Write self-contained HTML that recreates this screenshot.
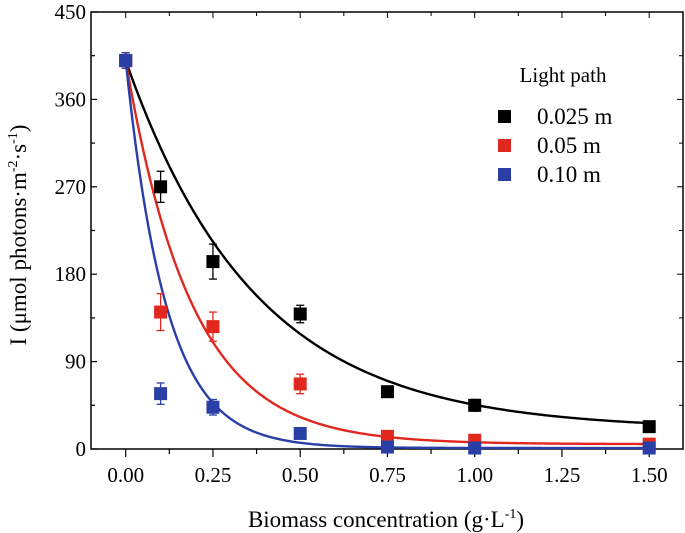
<!DOCTYPE html>
<html><head><meta charset="utf-8"><style>
body{margin:0;background:#fff}
svg{display:block;font-family:"Liberation Serif",serif}
</style></head><body>
<svg id="c" width="685" height="533"></svg>
<script>
const xs=[0,0.1,0.25,0.5,0.75,1.0,1.5];
const black=[400,270,193,139,59,45,23];
const blackErr=[8,16,18,9,5,6,4];
const red=[400,141,126,67,13,9,5];
const redErr=[8,19,15,10,3,2,2];
const blue=[400,57,43,16,2,1,1];
const blueErr=[8,11,8,3,1,1,1];
const fitY0=[20,5,1];
const fitA=[380,395,399];
const fitK=[2.7,5.3,8.6];
const xTicks=[0,0.25,0.5,0.75,1.0,1.25,1.5];
const xTickLabels=["0.00","0.25","0.50","0.75","1.00","1.25","1.50"];
const yTicks=[0,90,180,270,360,450];
const legendLabels=["0.025 m","0.05 m","0.10 m"];
const colors=["#000000","#e0281f","#2a3fa6"];

const NS="http://www.w3.org/2000/svg";
const svg=document.getElementById('c');
const L=91,R=683,T=12,B=449;
const X=v=>125.7+v*349;
const Y=v=>B-v*(B-T)/450;
function el(tag,attrs,parent){const e=document.createElementNS(NS,tag);for(const k in attrs)e.setAttribute(k,attrs[k]);(parent||svg).appendChild(e);return e;}

const frame=el('rect',{x:L,y:T,width:R-L,height:B-T,fill:'none',stroke:'#000','stroke-width':1.5});



for(let v=0;v<=1.5001;v+=0.125){
  const major=Math.abs(v*4-Math.round(v*4))<1e-6;
  const t=el('line',{x1:X(v),x2:X(v),y1:B,y2:B+(major?8:5),stroke:'#000','stroke-width':1.2});
  
  
  const t2=el('line',{x1:X(v),x2:X(v),y1:T,y2:T+(major?6:4),stroke:'#000','stroke-width':1});
  
  
}
xTicks.forEach((v,i)=>{
  const t=el('text',{x:X(v),y:482,'text-anchor':'middle','font-size':21});
  t.textContent=xTickLabels[i];
  
  
});
for(let v=0;v<=450;v+=45){
  const major=v%90===0;
  const t=el('line',{x1:L,x2:L+(major?6:4),y1:Y(v),y2:Y(v),stroke:'#000','stroke-width':1.2});
  
  
  const t2=el('line',{x1:R,x2:R-(major?6:4),y1:Y(v),y2:Y(v),stroke:'#000','stroke-width':1});
  
  
}
yTicks.forEach(v=>{
  const t=el('text',{x:86,y:Y(v)+7,'text-anchor':'end','font-size':21});
  t.textContent=String(v);
  
  
});
const xt=el('text',{x:386,y:527,'text-anchor':'middle','font-size':23});
xt.innerHTML='Biomass concentration (g·L<tspan dy="-9" font-size="14">-1</tspan><tspan dy="9">)</tspan>';


const yt=el('text',{x:0,y:0,'text-anchor':'middle','font-size':23,transform:'translate(26,235) rotate(-90)'});
yt.innerHTML='I (μmol photons·m<tspan dy="-9" font-size="14">-2</tspan><tspan dy="9">·s</tspan><tspan dy="-9" font-size="14">-1</tspan><tspan dy="9">)</tspan>';



[0,1,2].forEach(s=>{
  let d='';
  for(let i=0;i<=300;i++){const x=1.5*i/300;const y=fitY0[s]+fitA[s]*Math.exp(-fitK[s]*x);d+=(i?'L':'M')+X(x).toFixed(2)+','+Y(y).toFixed(2);}
  const p=el('path',{d:d,fill:'none',stroke:colors[s],'stroke-width':2.4});
  
  
});
const series=[[black,blackErr],[red,redErr],[blue,blueErr]];
series.forEach(([vals,errs],s)=>{
  vals.forEach((v,i)=>{
    const cx=X(xs[i]),cy=Y(v),e=errs[i]*(B-T)/450;
    const g=el('g',{});
    
    
    el('line',{x1:cx,x2:cx,y1:cy-e,y2:cy+e,stroke:colors[s],'stroke-width':1.3},g);
    el('line',{x1:cx-4,x2:cx+4,y1:cy-e,y2:cy-e,stroke:colors[s],'stroke-width':1.3},g);
    el('line',{x1:cx-4,x2:cx+4,y1:cy+e,y2:cy+e,stroke:colors[s],'stroke-width':1.3},g);
    el('rect',{x:cx-6.5,y:cy-6.5,width:13,height:13,fill:colors[s]},g);
  });
});
const lt=el('text',{x:563,y:82,'text-anchor':'middle','font-size':21});
lt.textContent='Light path';


legendLabels.forEach((lab,i)=>{
  const y=116+i*29;
  const g=el('g',{});
  
  
  el('rect',{x:498,y:y-6,width:13,height:13,fill:colors[i]},g);
  const t=el('text',{x:537,y:y+8,'font-size':23},g);
  t.textContent=lab;
});
</script>
</body></html>
